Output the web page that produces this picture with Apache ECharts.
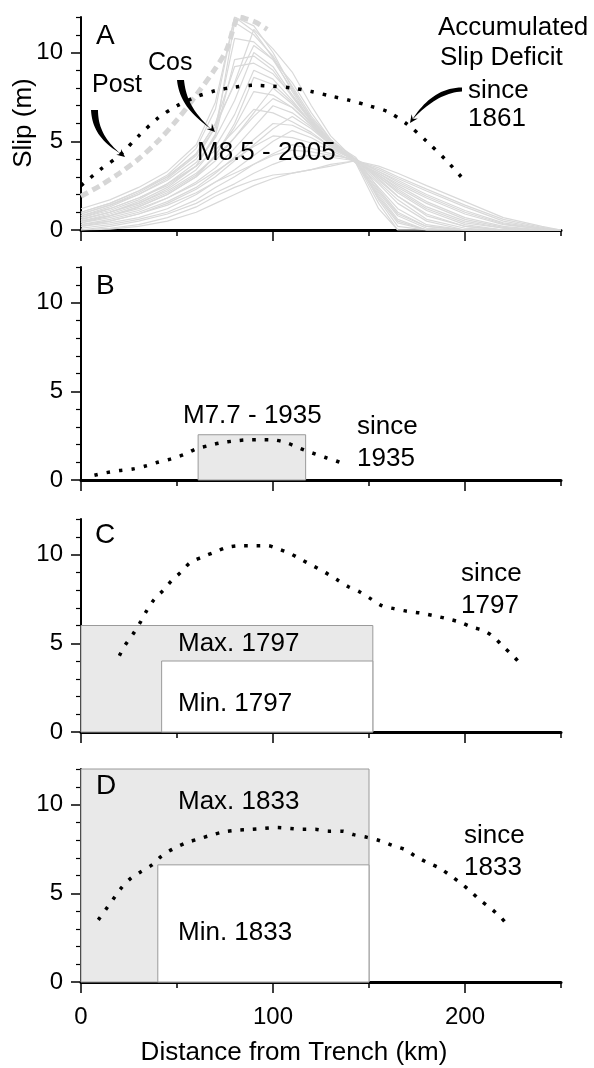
<!DOCTYPE html>
<html>
<head>
<meta charset="utf-8">
<script src="https://cdn.jsdelivr.net/npm/echarts@6/dist/echarts.min.js"></script>
<style>
  html, body { margin: 0; padding: 0; background: #fff; }
  #main { width: 594px; height: 1068px; }
</style>
</head>
<body>
<div id="main"></div>
<script>
// ---- axis ticks ----
var xMajor = [0, 100, 200];
var xMinor = [50, 150, 250];
var yMajor = [0, 5, 10];
var yMinor = [1, 2, 3, 4, 6, 7, 8, 9, 11, 12];

// ---- panel A: M8.5 2005 slip models (grey mesh) ----
var meshX = [0, 15, 30, 45, 60, 70, 80, 90, 100, 110, 120, 130, 143, 155, 165, 180, 200, 220, 240, 250];
var meshCurves = [
  [1.0, 1.5, 2.2, 3.1, 4.6, 6.8, 12.0, 11.5, 10.0, 8.0, 6.2, 5.0, 3.9, 1.5, 0, 0, 0, 0, 0, 0],
  [1.2, 1.7, 2.4, 3.3, 4.8, 7.2, 12.0, 11.2, 9.7, 7.8, 6.1, 4.9, 3.8, 1.2, 0, 0, 0, 0, 0, 0],
  [0.6, 1.0, 1.6, 2.4, 3.6, 5.4, 11.7, 11.0, 9.8, 8.1, 6.4, 5.1, 4.0, 1.7, 0.2, 0, 0, 0, 0, 0],
  [0.9, 1.4, 2.0, 2.8, 4.0, 5.8, 10.8, 10.6, 9.6, 7.9, 6.3, 5.0, 3.9, 1.9, 0.5, 0, 0, 0, 0, 0],
  [0.8, 1.3, 2.0, 2.9, 4.2, 5.8, 8.3, 11.3, 10.2, 8.9, 7.0, 5.3, 3.9, 1.8, 0.4, 0, 0, 0, 0, 0],
  [0.9, 1.4, 2.1, 3.0, 4.3, 6.0, 8.2, 10.4, 9.6, 8.3, 6.6, 5.1, 3.8, 2.0, 0.6, 0, 0, 0, 0, 0],
  [0.7, 1.2, 1.8, 2.5, 3.6, 5.3, 9.6, 9.8, 9.0, 7.5, 6.1, 4.9, 3.9, 2.2, 0.9, 0.2, 0, 0, 0, 0],
  [1.0, 1.5, 2.2, 3.0, 4.3, 6.0, 9.2, 9.4, 8.8, 7.6, 6.2, 5.0, 4.1, 2.3, 1.0, 0.2, 0, 0, 0, 0],
  [0.7, 1.1, 1.7, 2.6, 3.8, 5.2, 7.3, 10.0, 9.2, 7.6, 6.1, 4.9, 3.9, 2.1, 0.8, 0.1, 0, 0, 0, 0],
  [0.6, 1.0, 1.5, 2.3, 3.4, 4.7, 6.5, 9.0, 8.5, 7.3, 6.0, 4.9, 3.9, 2.4, 1.2, 0.3, 0, 0, 0, 0],
  [0.4, 0.8, 1.3, 2.0, 3.0, 4.2, 6.0, 8.6, 8.2, 7.2, 6.0, 4.9, 3.8, 2.6, 1.5, 0.5, 0, 0, 0, 0],
  [0.5, 0.9, 1.4, 2.1, 3.1, 4.2, 5.8, 7.8, 7.6, 6.9, 5.9, 4.8, 3.9, 2.9, 1.9, 0.8, 0.2, 0, 0, 0],
  [0.5, 0.8, 1.3, 2.0, 3.0, 3.9, 5.2, 6.6, 8.0, 7.1, 6.0, 4.9, 3.9, 2.7, 1.7, 0.6, 0.1, 0, 0, 0],
  [0.6, 1.0, 1.5, 2.2, 3.2, 4.1, 5.2, 6.4, 7.4, 6.9, 5.9, 4.8, 4.0, 2.8, 1.9, 0.9, 0.2, 0, 0, 0],
  [0.4, 0.7, 1.1, 1.8, 2.7, 3.5, 4.6, 5.8, 7.0, 6.6, 5.8, 4.8, 3.9, 3.0, 2.1, 1.1, 0.3, 0, 0, 0],
  [0.8, 1.2, 1.8, 2.6, 3.6, 4.5, 5.6, 6.8, 6.6, 6.1, 5.5, 4.7, 3.9, 3.0, 2.2, 1.2, 0.4, 0.1, 0, 0],
  [0.3, 0.6, 1.0, 1.6, 2.4, 3.2, 4.1, 5.1, 6.0, 5.9, 5.4, 4.7, 3.9, 3.1, 2.3, 1.3, 0.5, 0.1, 0, 0],
  [0.3, 0.5, 0.9, 1.5, 2.3, 3.0, 3.9, 4.8, 5.7, 6.4, 5.7, 4.8, 3.9, 3.1, 2.4, 1.5, 0.6, 0.15, 0, 0],
  [0.2, 0.4, 0.7, 1.2, 2.0, 2.7, 3.4, 4.2, 5.0, 5.6, 5.2, 4.6, 3.9, 3.2, 2.6, 1.8, 0.9, 0.3, 0.05, 0],
  [0.5, 0.8, 1.2, 1.8, 2.6, 3.3, 4.0, 4.7, 5.3, 5.2, 4.9, 4.5, 3.8, 3.2, 2.5, 1.6, 0.7, 0.2, 0, 0],
  [0.1, 0.3, 0.6, 1.0, 1.7, 2.4, 3.0, 3.7, 4.3, 4.8, 4.6, 4.3, 3.9, 3.3, 2.8, 2.0, 1.1, 0.4, 0.1, 0],
  [0.2, 0.5, 0.9, 1.4, 2.1, 2.7, 3.2, 3.7, 4.2, 4.5, 4.4, 4.2, 4.0, 3.3, 2.7, 1.9, 1.0, 0.35, 0.05, 0],
  [0, 0.2, 0.5, 0.9, 1.5, 2.1, 2.6, 3.2, 3.7, 4.1, 4.2, 4.1, 3.9, 3.4, 2.9, 2.2, 1.3, 0.5, 0.1, 0],
  [0, 0.1, 0.3, 0.7, 1.3, 1.9, 2.4, 2.8, 3.1, 3.2, 3.4, 3.7, 3.9, 3.5, 3.0, 2.3, 1.4, 0.6, 0.15, 0],
  [0, 0.05, 0.2, 0.5, 1.0, 1.5, 2.0, 2.5, 2.9, 3.2, 3.4, 3.6, 3.9, 3.6, 3.2, 2.5, 1.6, 0.7, 0.2, 0]
];
// dashed grey envelope (co + post seismic)
var cosPostX = [0, 10, 20, 30, 40, 50, 60, 70, 76, 80, 82, 86, 91, 97];
var cosPostY = [1.9, 2.5, 3.2, 4.0, 5.0, 6.2, 7.6, 9.1, 10.2, 11.6, 12.0, 11.9, 11.7, 11.3];
// accumulated slip deficit since 1861
var since1861X = [0, 10, 20, 30, 40, 50, 60, 70, 80, 90, 100, 110, 120, 130, 140, 150, 160, 170, 180, 190, 198];
var since1861Y = [2.5, 3.4, 4.2, 5.3, 6.3, 7.0, 7.5, 7.85, 8.05, 8.15, 8.1, 8.0, 7.8, 7.55, 7.3, 7.0, 6.65, 5.95, 5.0, 3.95, 3.0];

// ---- panel B ----
var rupture1935 = [61, 117, 2.55];
var since1935X = [7, 13, 20, 27, 34, 40, 47, 54, 60, 67, 73, 80, 86, 93, 100, 107, 114, 120, 127, 133, 139];
var since1935Y = [0.27, 0.41, 0.53, 0.62, 0.8, 1.0, 1.19, 1.45, 1.75, 1.95, 2.1, 2.2, 2.26, 2.27, 2.26, 2.1, 1.79, 1.54, 1.28, 1.07, 0.81];

// ---- panel C ----
var max1797 = [0, 152, 6.0];
var min1797 = [42, 152, 4.0];
var since1797X = [20, 23, 27, 31, 34, 38, 43, 47, 52, 57, 63, 70, 76, 83, 90, 97, 103, 109, 115, 121, 127, 133, 139, 145, 151, 157, 163, 170, 177, 184, 190, 197, 204, 210, 215, 220, 225, 230];
var since1797Y = [4.3, 4.9, 5.5, 6.2, 6.8, 7.45, 8.0, 8.5, 9.0, 9.55, 9.85, 10.15, 10.4, 10.5, 10.5, 10.5, 10.3, 10.05, 9.7, 9.35, 9.0, 8.6, 8.2, 7.9, 7.5, 7.1, 6.95, 6.8, 6.7, 6.55, 6.4, 6.2, 5.9, 5.7, 5.35, 4.8, 4.3, 3.7];

// ---- panel D ----
var max1833 = [0, 150, 12];
var min1833 = [40, 150, 6.6];
var since1833X = [9, 13, 17, 21, 26, 31, 37, 42, 48, 55, 61, 67, 74, 81, 88, 95, 102, 109, 115, 122, 129, 136, 142, 149, 156, 162, 169, 174, 180, 187, 193, 198, 203, 208, 214, 219, 223];
var since1833Y = [3.5, 4.1, 4.7, 5.3, 5.85, 6.2, 6.6, 7.1, 7.5, 7.85, 8.05, 8.25, 8.45, 8.55, 8.6, 8.65, 8.7, 8.65, 8.6, 8.6, 8.5, 8.5, 8.3, 8.15, 7.95, 7.7, 7.45, 7.1, 6.75, 6.4, 5.95, 5.55, 5.1, 4.6, 4.1, 3.6, 3.1];

var FONT = '"Liberation Sans", Arial, Helvetica, sans-serif';

function pairs(xs, ys) {
  return xs.map(function (x, i) { return [x, ys[i]]; });
}

var chart = echarts.init(document.getElementById('main'));

var tops = [17, 267, 519, 769];
var grids = [], xAxes = [], yAxes = [];
tops.forEach(function (t, i) {
  grids.push({ left: 81, width: 480, top: t, height: 213 });
  xAxes.push({
    type: 'value', gridIndex: i, position: 'bottom', min: 0, max: 250,
    axisLine: { show: true, onZero: false, lineStyle: { color: '#000', width: 3 } },
    axisTick: { show: true, length: 11, customValues: xMajor, lineStyle: { color: '#000', width: 1.5 } },
    axisLabel: { show: i === 3, customValues: xMajor, margin: 23, fontSize: 24, color: '#000', fontFamily: FONT },
    splitLine: { show: false }
  });
  xAxes.push({
    type: 'value', gridIndex: i, position: 'bottom', min: 0, max: 250,
    axisLine: { show: false },
    axisTick: { show: true, length: 6, customValues: xMinor, lineStyle: { color: '#000', width: 1.5 } },
    axisLabel: { show: false },
    splitLine: { show: false }
  });
  yAxes.push({
    type: 'value', gridIndex: i, position: 'left', min: 0, max: 12,
    axisLine: { show: true, onZero: false, lineStyle: { color: '#000', width: 2 } },
    axisTick: { show: true, length: 10, customValues: yMajor, lineStyle: { color: '#000', width: 1.5 } },
    axisLabel: { customValues: yMajor, margin: 18, fontSize: 24, color: '#000', fontFamily: FONT },
    splitLine: { show: false }
  });
  yAxes.push({
    type: 'value', gridIndex: i, position: 'left', min: 0, max: 12,
    axisLine: { show: false },
    axisTick: { show: true, length: 5, customValues: yMinor, lineStyle: { color: '#000', width: 1.2 } },
    axisLabel: { show: false },
    splitLine: { show: false }
  });
});

function boxSeries(panel, box, fill) {
  return {
    type: 'custom', xAxisIndex: panel * 2, yAxisIndex: panel * 2, z: 2,
    data: [box], silent: true,
    encode: { x: [0, 1], y: 2 },
    renderItem: function (params, api) {
      var p0 = api.coord([api.value(0), api.value(2)]);
      var p1 = api.coord([api.value(1), 0]);
      return {
        type: 'rect',
        shape: { x: p0[0], y: p0[1], width: p1[0] - p0[0], height: p1[1] - p0[1] },
        style: { fill: fill, stroke: '#9a9a9a', lineWidth: 1 }
      };
    }
  };
}

function dotted(panel, xs, ys) {
  return {
    type: 'line', xAxisIndex: panel * 2, yAxisIndex: panel * 2, z: 6,
    data: pairs(xs, ys), symbol: 'none', smooth: 0.3, silent: true,
    lineStyle: { color: '#000', width: 3.5, type: [3.5, 9], cap: 'butt' }
  };
}

var series = [];
meshCurves.forEach(function (c) {
  series.push({
    type: 'line', xAxisIndex: 0, yAxisIndex: 0, z: 2,
    data: pairs(meshX, c), symbol: 'none', silent: true,
    lineStyle: { color: '#d9d9d9', width: 1.2 }
  });
});
series.push({
  type: 'line', xAxisIndex: 0, yAxisIndex: 0, z: 3,
  data: pairs(cosPostX, cosPostY), symbol: 'none', smooth: 0.3, silent: true,
  lineStyle: { color: '#d6d6d6', width: 5, type: [8, 5] }
});
series.push(dotted(0, since1861X, since1861Y));
series.push(boxSeries(1, rupture1935, '#e9e9e9'));
series.push(dotted(1, since1935X, since1935Y));
series.push(boxSeries(2, max1797, '#e9e9e9'));
series.push(boxSeries(2, min1797, '#ffffff'));
series.push(dotted(2, since1797X, since1797Y));
series.push(boxSeries(3, max1833, '#e9e9e9'));
series.push(boxSeries(3, min1833, '#ffffff'));
series.push(dotted(3, since1833X, since1833Y));

// ---- annotations ----
function label(text, x, y, size, opts) {
  opts = opts || {};
  return {
    type: 'text', x: x, y: y, z: 20, silent: true,
    rotation: opts.rotation || 0,
    style: {
      text: text, fill: '#000',
      font: size + 'px ' + FONT,
      textAlign: opts.align || 'left', align: opts.align || 'left',
      textVerticalAlign: 'middle', verticalAlign: 'middle'
    }
  };
}

// tapered curved arrow body: two cubic curves (outer then inner, back)
function bez(p0, p1, p2, p3, n) {
  var out = [];
  for (var i = 0; i <= n; i++) {
    var t = i / n, u = 1 - t;
    out.push([
      u * u * u * p0[0] + 3 * u * u * t * p1[0] + 3 * u * t * t * p2[0] + t * t * t * p3[0],
      u * u * u * p0[1] + 3 * u * u * t * p1[1] + 3 * u * t * t * p2[1] + t * t * t * p3[1]
    ]);
  }
  return out;
}
function crescent(a0, a1, a2, tip, b1, b2, b0) {
  var pts = bez(a0, a1, a2, tip, 20).concat(bez(tip, b1, b2, b0, 20));
  return { type: 'polygon', z: 20, silent: true, shape: { points: pts }, style: { fill: '#000' } };
}

function arrowHead(tx, ty, deg) {
  var a = deg * Math.PI / 180, L = 9, s = 25 * Math.PI / 180;
  var b1 = [tx - L * Math.cos(a + s), ty - L * Math.sin(a + s)];
  var b2 = [tx - L * Math.cos(a - s), ty - L * Math.sin(a - s)];
  var n = [tx - 5 * Math.cos(a), ty - 5 * Math.sin(a)];
  return { type: 'polygon', z: 20, silent: true, shape: { points: [b1, [tx, ty], b2, n] }, style: { fill: '#000' } };
}

var graphics = [
  label('Slip (m)', 24, 123, 26, { rotation: Math.PI / 2, align: 'center' }),
  label('Distance from Trench (km)', 294, 1053, 26, { align: 'center' }),

  label('A', 96, 36, 28),
  label('Post', 92, 85, 25),
  label('Cos', 148, 63, 25),
  label('M8.5 - 2005', 197, 153, 26),
  label('Accumulated', 438, 28, 26),
  label('Slip Deficit', 440, 58, 26),
  label('since', 468, 91, 26),
  label('1861', 468, 119, 26),
  crescent([91, 110], [92, 128], [100, 141], [121, 154], [104, 140], [98, 126], [98, 110]),
  arrowHead(125, 157, 39),
  crescent([177, 80], [179, 100], [190, 114], [211, 129], [193, 112], [186, 99], [184, 80]),
  arrowHead(215, 132, 45),
  crescent([462, 87.5], [440, 87.5], [424, 101], [412, 120], [428, 103], [444, 92.5], [462, 91.5]),
  arrowHead(410, 123, 125),

  label('B', 96, 286, 28),
  label('M7.7 - 1935', 183, 416, 26),
  label('since', 357, 427, 26),
  label('1935', 357, 459, 26),

  label('C', 95, 535, 28),
  label('Max. 1797', 178, 644, 26),
  label('Min. 1797', 178, 704, 26),
  label('since', 461, 574, 26),
  label('1797', 461, 606, 26),

  label('D', 96, 786, 28),
  label('Max. 1833', 178, 802, 26),
  label('Min. 1833', 178, 933, 26),
  label('since', 464, 836, 26),
  label('1833', 464, 868, 26)
];

chart.setOption({
  animation: false,
  backgroundColor: '#fff',
  grid: grids,
  xAxis: xAxes,
  yAxis: yAxes,
  series: series,
  graphic: { elements: graphics }
});
</script>
</body>
</html>
